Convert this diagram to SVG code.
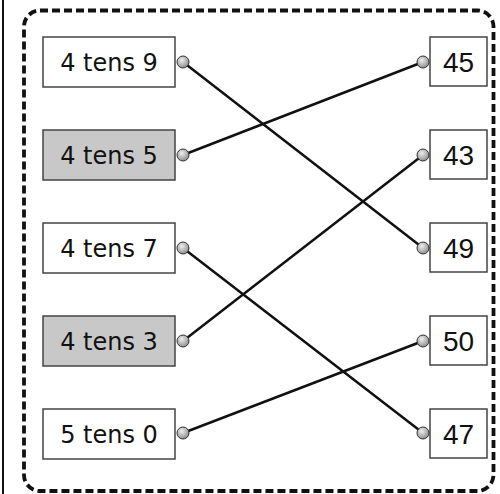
<svg xmlns="http://www.w3.org/2000/svg" width="500" height="494" viewBox="0 0 500 494">
<defs>
<radialGradient id="g" cx="0.4" cy="0.35" r="0.7">
<stop offset="0" stop-color="#eeeeee"/>
<stop offset="1" stop-color="#888888"/>
</radialGradient>
<style>
.box{fill:#fff;stroke:#444;stroke-width:1.5}
.sh{fill:#c8c8c8}
.lt{font-family:"DejaVu Sans",sans-serif;font-size:24px;fill:#111;text-anchor:middle}
.rt{font-family:"Liberation Sans",Arial,sans-serif;font-size:28px;fill:#111;text-anchor:middle}
.dot{fill:url(#g);stroke:#333;stroke-width:1}
.ln{stroke:#111;stroke-width:2.5;fill:none}
</style>
</defs>
<rect width="500" height="494" fill="#fff"/>
<line x1="3" y1="0" x2="3" y2="494" stroke="#111" stroke-width="2"/>
<rect x="24" y="10.5" width="469.5" height="480.5" rx="16" fill="none" stroke="#111" stroke-width="3.8" stroke-dasharray="8,4"/>
<g id="connectors">
<line class="ln" x1="183" y1="62" x2="423" y2="248"/>
<line class="ln" x1="183" y1="155" x2="423" y2="62"/>
<line class="ln" x1="183" y1="248" x2="423" y2="433"/>
<line class="ln" x1="183" y1="341" x2="423" y2="155"/>
<line class="ln" x1="183" y1="433" x2="423" y2="341"/>
</g>
<g id="l1"><rect class="box" x="43" y="37" width="132" height="50"/><text class="lt" x="109" y="71">4 tens 9</text><circle class="dot" cx="183" cy="62" r="6"/></g>
<g id="l2"><rect class="box sh" x="43" y="130" width="132" height="50"/><text class="lt" x="109" y="164">4 tens 5</text><circle class="dot" cx="183" cy="155" r="6"/></g>
<g id="l3"><rect class="box" x="43" y="223" width="132" height="50"/><text class="lt" x="109" y="257">4 tens 7</text><circle class="dot" cx="183" cy="248" r="6"/></g>
<g id="l4"><rect class="box sh" x="43" y="316" width="132" height="50"/><text class="lt" x="109" y="350">4 tens 3</text><circle class="dot" cx="183" cy="341" r="6"/></g>
<g id="l5"><rect class="box" x="43" y="409" width="132" height="50"/><text class="lt" x="109" y="443">5 tens 0</text><circle class="dot" cx="183" cy="433" r="6"/></g>
<g id="r1"><rect class="box" x="430" y="37" width="57" height="49"/><text class="rt" x="458.5" y="72">45</text><circle class="dot" cx="423" cy="62" r="6"/></g>
<g id="r2"><rect class="box" x="430" y="130" width="57" height="49"/><text class="rt" x="458.5" y="165">43</text><circle class="dot" cx="423" cy="155" r="6"/></g>
<g id="r3"><rect class="box" x="430" y="223" width="57" height="49"/><text class="rt" x="458.5" y="258">49</text><circle class="dot" cx="423" cy="248" r="6"/></g>
<g id="r4"><rect class="box" x="430" y="316" width="57" height="49"/><text class="rt" x="458.5" y="351">50</text><circle class="dot" cx="423" cy="341" r="6"/></g>
<g id="r5"><rect class="box" x="430" y="409" width="57" height="49"/><text class="rt" x="458.5" y="444">47</text><circle class="dot" cx="423" cy="433" r="6"/></g>
</svg>
